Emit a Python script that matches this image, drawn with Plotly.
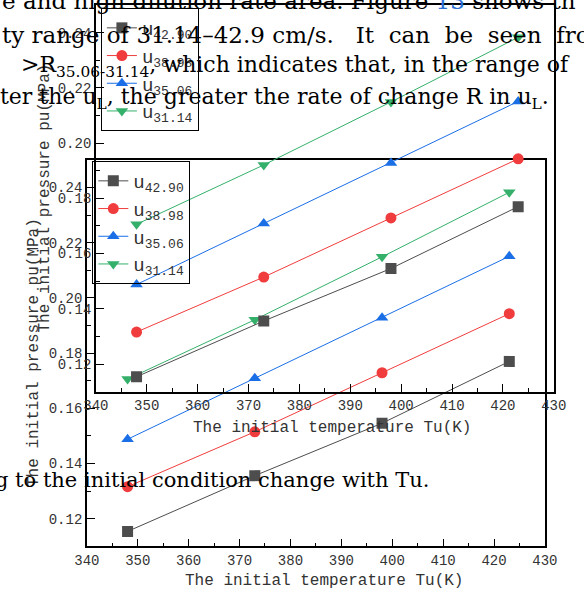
import plotly.graph_objects as go

W, H = 584, 594

temps = [348, 373, 398, 423]
labels = ["u<sub><span style='font-size:13px'>42.90</span></sub>",
          "u<sub><span style='font-size:13px'>38.98</span></sub>",
          "u<sub><span style='font-size:13px'>35.06</span></sub>",
          "u<sub><span style='font-size:13px'>31.14</span></sub>"]
p_4290 = [0.1154, 0.1356, 0.1546, 0.1770]
p_3898 = [0.1316, 0.1515, 0.1729, 0.1943]
p_3506 = [0.1488, 0.1709, 0.1928, 0.2151]
p_3114 = [0.1706, 0.1921, 0.2149, 0.2383]
series = [p_4290, p_3898, p_3506, p_3114]
colors = ["#4d4d4d", "#f03c3c", "#1a6ee6", "#34b06a"]
symbols = ["square", "circle", "triangle-up", "triangle-down"]

x_title = "The initial temperature Tu(K)"
y_title = "The initial pressure pu(MPa)"

# document text lines
doc_lines = [
    "e and high dilution rate area. Figure <span style='color:#2a6fd6'>13</span> shows th",
    "ty range of 31.14\u201342.9 cm/s.&nbsp;&nbsp; It&nbsp; can&nbsp; be&nbsp; seen&nbsp; from",
    "&gt;R<sub>35.06-31.14</sub>, which indicates that, in the range of",
    "ter the u<sub>L</sub>, the greater the rate of change R in u<sub>L</sub>.",
    "g to the initial condition change with Tu.",
]

# pixel boxes of the two (duplicated) charts: left, right, top, bottom
boxes = [(77.3, 556.7, 160.0, 546.3), (86.7, 566.0, 5.0, 391.7)]
legend_pos = [(83.0, 161.0), (92.0, 8.0)]
xtitle_pos = [(325, 581), (334, 428)]
ytitle_pos = [(22, 353), (34, 198)]

mono = "Liberation Mono"
fig = go.Figure()

for ci in range(2):
    xa = "x" if ci == 0 else "x2"
    ya = "y" if ci == 0 else "y2"
    lg = "legend" if ci == 0 else "legend2"
    for s, lab, c, sym in zip(series, labels, colors, symbols):
        fig.add_trace(go.Scatter(
            x=temps, y=s, name=lab, mode="lines+markers",
            xaxis=xa, yaxis=ya, legend=lg,
            line=dict(color=c, width=1),
            marker=dict(symbol=sym, color=c, size=11),
        ))

def xaxis_cfg(box):
    l, r, t, b = box
    return dict(
        domain=[l / W, r / W], range=[340, 430], dtick=10, tick0=340,
        showline=True, linecolor="black", linewidth=1.5, mirror=True,
        ticks="inside", ticklen=8, tickwidth=1.2, tickcolor="black",
        minor=dict(ticks="inside", ticklen=4, dtick=5, tickcolor="black"),
        showgrid=False, zeroline=False,
        tickfont=dict(family=mono, size=14, color="#333"),
    )

def yaxis_cfg(box):
    l, r, t, b = box
    return dict(
        domain=[1 - b / H, 1 - t / H], range=[0.11, 0.25], dtick=0.02, tick0=0.12,
        tickformat=".2f",
        showline=True, linecolor="black", linewidth=1.5, mirror=True,
        ticks="inside", ticklen=8, tickwidth=1.2, tickcolor="black",
        minor=dict(ticks="inside", ticklen=4, dtick=0.01, tickcolor="black"),
        showgrid=False, zeroline=False,
        tickfont=dict(family=mono, size=14, color="#333"),
    )

def legend_cfg(pos):
    x, y = pos
    return dict(
        x=x / W, y=1 - y / H, xanchor="left", yanchor="top",
        bordercolor="black", borderwidth=1, bgcolor="rgba(0,0,0,0)",
        font=dict(family=mono, size=19, color="#333"),
        tracegroupgap=0,
    )

fig.update_layout(
    width=W, height=H, margin=dict(l=0, r=0, t=0, b=0),
    paper_bgcolor="white", plot_bgcolor="rgba(0,0,0,0)",
    showlegend=True,
    xaxis=dict(xaxis_cfg(boxes[0]), anchor="y"),
    yaxis=dict(yaxis_cfg(boxes[0]), anchor="x"),
    xaxis2=dict(xaxis_cfg(boxes[1]), anchor="y2"),
    yaxis2=dict(yaxis_cfg(boxes[1]), anchor="x2"),
    legend=legend_cfg(legend_pos[0]),
    legend2=legend_cfg(legend_pos[1]),
)

# axis titles as annotations (precise placement)
for (tx, ty), (sx, sy) in zip(xtitle_pos, ytitle_pos):
    fig.add_annotation(text=x_title, xref="paper", yref="paper",
                       x=tx / W, y=1 - ty / H, xanchor="center", yanchor="middle",
                       showarrow=False, font=dict(family=mono, size=16, color="#333"))
    fig.add_annotation(text=y_title, xref="paper", yref="paper", textangle=-90,
                       x=sx / W, y=1 - sy / H, xanchor="center", yanchor="middle",
                       showarrow=False, font=dict(family=mono, size=16, color="#333"))

# document text overlay (pixel anchors: x, center y, anchor, size)
doc_anchor = [
    (-14, 1, "left", 23),
    (-14, 35, "left", 23),
    (6, 66, "left", 22),
    (-16, 98, "left", 22),
    (437, 480, "right", 21),
]
for txt, (px, py, xa, fs) in zip(doc_lines, doc_anchor):
    fig.add_annotation(
        text=txt, xref="paper", yref="paper", x=px / W, y=1 - py / H,
        xanchor=xa, yanchor="middle", showarrow=False,
        font=dict(family="DejaVu Serif", size=fs, color="black"),
    )

fig.write_html("out.html")
